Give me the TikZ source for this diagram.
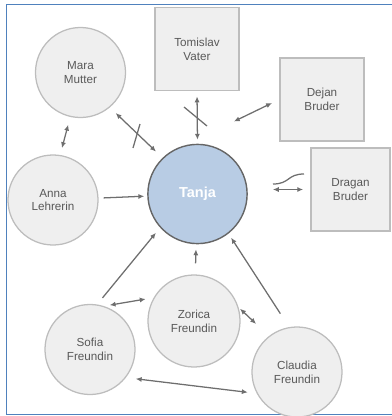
\documentclass[tikz,border=0pt]{standalone}
\usepackage{fontspec}
\setmainfont{Liberation Sans}
\usetikzlibrary{arrows.meta}

\definecolor{nodefill}{HTML}{EFEFEF}
\definecolor{nodeline}{HTML}{BDBDBD}
\definecolor{tanjafill}{HTML}{B8CCE4}
\definecolor{tanjaline}{HTML}{666666}
\definecolor{linkgray}{HTML}{6E6E6E}
\definecolor{textgray}{HTML}{595959}
\definecolor{frameblue}{HTML}{4F81BD}

\begin{document}
\begin{tikzpicture}[x=0.025cm, y=-0.025cm,
  person/.style={shape=circle, draw=nodeline, fill=nodefill, line width=0.9pt, minimum size=2.25cm, inner sep=0pt,
    align=center, text=textgray, font=\fontsize{8.3}{9.8}\selectfont},
  family/.style={shape=rectangle, draw=nodeline, fill=nodefill, line width=1pt, minimum width=2.1cm, minimum height=2.1cm,
    inner sep=0pt, align=center, text=textgray, font=\fontsize{8.3}{9.8}\selectfont},
  link/.style={draw=linkgray, line width=0.9pt, {Latex[length=4.2pt,width=3.6pt]}-{Latex[length=4.2pt,width=3.6pt]}},
  linkto/.style={draw=linkgray, line width=0.9pt, -{Latex[length=4.2pt,width=3.6pt]}},
  cut/.style={draw=linkgray, line width=0.9pt}]
%%%%%%%%%%%%%%%%%%%%%%%%%%%%%%%%%%%%%%%%%%% HELP LINES
%\draw[help lines] (0,0) grid[step=20] (391,416);
\useasboundingbox (0,0) rectangle (391,416);

%%%%%%%%%%%%%%%%%%%%%%%%%%%%%%%%%%%%%%%%%%% frame
\draw[frameblue, line width=1.4pt] (6.5,4.5) rectangle (396,414.5);

%%%%%%%%%%%%%%%%%%%%%%%%%%%%%%%%%%%%%%%%%%% persons
\node[shape=circle, draw=tanjaline, fill=tanjafill, line width=1pt, minimum size=2.48cm, text=white,
  font=\fontsize{10.3}{12}\selectfont\bfseries](tanja) at (197.5,194){Tanja};
\node[person](mara) at (80.5,72.5){Mara\\Mutter};
\node[person](anna) at (53,200){Anna\\Lehrerin};
\node[person, minimum size=2.3cm](zorica) at (194,321){Zorica\\Freundin};
\node[person](sofia) at (90,349.5){Sofia\\Freundin};
\node[person](claudia) at (297,372){Claudia\\Freundin};

%%%%% family boxes
\node[family, minimum height=2.08cm](tomislav) at (197,49){Tomislav\\Vater};
\node[family, minimum height=2.08cm](dejan) at (322,99.5){Dejan\\Bruder};
\node[family, minimum width=1.98cm, minimum height=2.08cm](dragan) at (350.5,189.5){Dragan\\Bruder};

%%%%%%%%%%%%%%%%%%%%%%%%%%%%%%%%%%%%%%%%%%% relations
\draw[link, shorten <=5.7pt, shorten >=5pt] (mara.-103) -- (anna.81);
\draw[link, shorten <=5.7pt, shorten >=6.4pt] (mara.-50) -- (tanja.134);
\draw[link, shorten <=3.6pt, shorten >=2.8pt] (tomislav.south) -- (tanja.north);
\draw[link, shorten <=5.7pt, shorten >=39pt] (dejan.west) -- (tanja.105);
\draw[link, shorten <=17.8pt, shorten >=5pt] (tanja.east |- dragan.west) -- (dragan.west);
\draw[linkto, shorten <=3.6pt, shorten >=2.1pt] (anna) -- (tanja);
\draw[linkto, shorten <=6pt, shorten >=4.7pt] (sofia.81) -- (tanja.222);
\draw[linkto, shorten <=7.8pt, shorten >=3.6pt] (zorica) -- (tanja);
\draw[linkto, shorten <=11.4pt, shorten >=3.4pt] (claudia.100) -- (tanja.-52);
\draw[link, shorten <=4pt, shorten >=5.7pt] (sofia.72) -- (zorica.150);
\draw[link, shorten <=1.4pt, shorten >=12.5pt] (zorica.17) -- (claudia.128);
\draw[link, shorten <=7pt, shorten >=6.4pt] (sofia.-38) -- (claudia.208);

%%%%% broken and tense relations
\draw[cut] (140,124) -- (133,148);
\draw[cut] (184,107) -- (207,126);
\draw[cut] (273,184) .. controls (290,184) and (287,174) .. (304,174);
\end{tikzpicture}
\end{document}
